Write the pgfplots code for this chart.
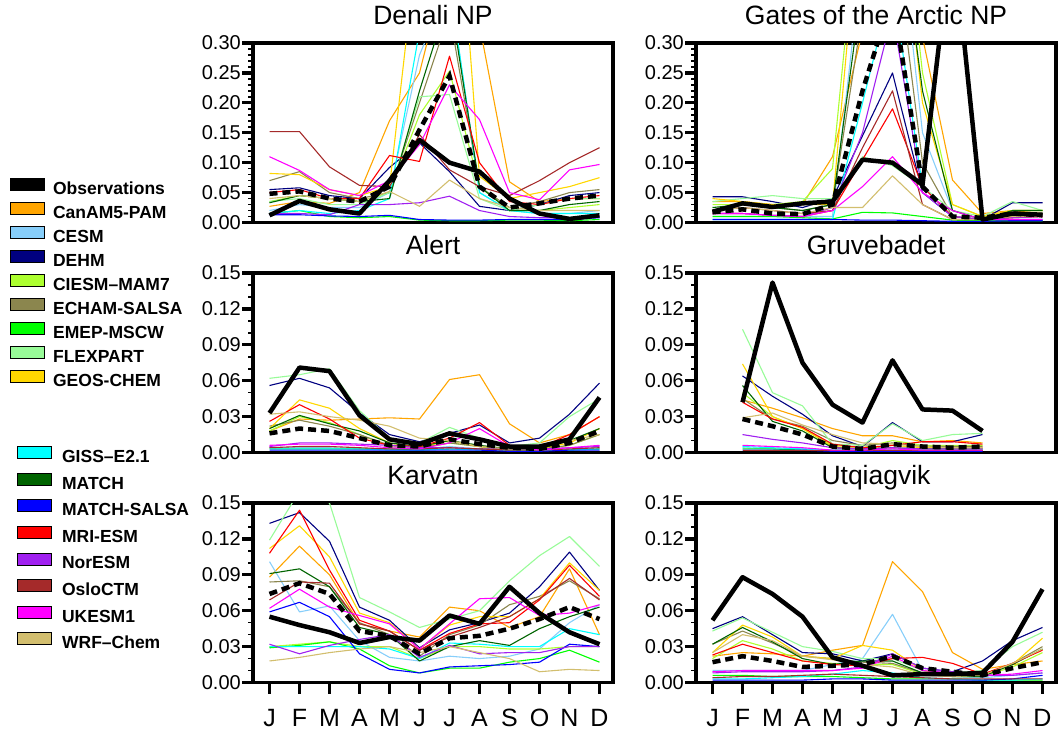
\documentclass[border=0pt]{standalone}
\usepackage{fontspec}
\setmainfont{Liberation Sans}
\usepackage{pgfplots}
\usepackage{pgfplotstable}
\pgfplotsset{compat=1.18}

\definecolor{colcan}{RGB}{255,165,0}
\definecolor{colcesm}{RGB}{135,206,250}
\definecolor{coldehm}{RGB}{0,0,128}
\definecolor{colciesm}{RGB}{173,255,47}
\definecolor{colecham}{RGB}{139,134,78}
\definecolor{colemep}{RGB}{0,255,0}
\definecolor{colflex}{RGB}{152,251,152}
\definecolor{colgeos}{RGB}{255,215,0}
\definecolor{colgiss}{RGB}{0,255,255}
\definecolor{colmatch}{RGB}{0,100,0}
\definecolor{colmsalsa}{RGB}{0,0,255}
\definecolor{colmri}{RGB}{255,0,0}
\definecolor{colnor}{RGB}{160,32,240}
\definecolor{coloslo}{RGB}{165,42,42}
\definecolor{coluk}{RGB}{255,0,255}
\definecolor{colwrf}{RGB}{210,190,110}

% monthly values, m = 0 (Jan) ... 11 (Dec)
\pgfplotstableread{
m  obs   ens   can   cesm  dehm  ciesm echam emep  flex  geos  giss  match msalsa mri  nor   oslo  uk    wrf
0  0.012 0.048 0.027 0.020 0.055 0.035 0.070 0.015 0.035 0.082 0.015 0.033 0.013 0.050 0.015 0.152 0.110 0.040
1  0.036 0.052 0.035 0.030 0.058 0.045 0.085 0.020 0.040 0.080 0.020 0.045 0.013 0.055 0.015 0.152 0.087 0.045
2  0.022 0.040 0.032 0.025 0.045 0.040 0.050 0.010 0.030 0.055 0.015 0.040 0.011 0.040 0.013 0.093 0.055 0.040
3  0.015 0.035 0.050 0.025 0.040 0.035 0.040 0.008 0.030 0.045 0.020 0.035 0.010 0.040 0.030 0.062 0.045 0.035
4  0.070 0.060 0.170 0.050 0.092 0.050 0.050 0.010 0.050 0.060 0.040 0.040 0.012 0.112 0.030 0.060 0.070 0.052
5  0.138 0.155 0.250 0.280 0.133 0.180 0.200 0.004 0.210 0.500 0.320 0.220 0.005 0.102 0.033 0.147 0.130 0.027
6  0.100 0.245 0.450 0.400 0.085 0.253 0.350 0.003 0.214 0.750 0.400 0.380 0.004 0.278 0.044 0.088 0.230 0.071
7  0.085 0.060 0.330 0.050 0.027 0.060 0.060 0.003 0.040 0.077 0.050 0.060 0.004 0.100 0.020 0.060 0.172 0.040
8  0.040 0.025 0.068 0.020 0.020 0.020 0.025 0.004 0.020 0.040 0.020 0.020 0.005 0.035 0.010 0.045 0.050 0.025
9  0.015 0.032 0.035 0.015 0.030 0.020 0.035 0.004 0.030 0.050 0.015 0.020 0.005 0.030 0.008 0.070 0.038 0.020
10 0.006 0.040 0.040 0.015 0.045 0.025 0.050 0.003 0.040 0.060 0.015 0.030 0.005 0.040 0.008 0.100 0.088 0.020
11 0.012 0.045 0.040 0.020 0.050 0.030 0.055 0.005 0.040 0.075 0.015 0.035 0.008 0.045 0.010 0.125 0.097 0.020
}\tblden

\pgfplotstableread{
m  obs   ens   can   cesm  dehm  ciesm echam emep  flex  geos  giss  match msalsa mri  nor   oslo  uk    wrf
0  0.018 0.017 0.035 0.010 0.043 0.030 0.020 0.010 0.035 0.040 0.005 0.025 0.005 0.015 0.015 0.020 0.015 0.020
1  0.032 0.022 0.035 0.010 0.043 0.030 0.030 0.010 0.040 0.035 0.005 0.030 0.005 0.015 0.015 0.025 0.015 0.025
2  0.026 0.015 0.030 0.010 0.035 0.030 0.025 0.010 0.045 0.030 0.005 0.025 0.005 0.012 0.012 0.020 0.012 0.020
3  0.032 0.014 0.030 0.010 0.025 0.035 0.020 0.008 0.040 0.030 0.005 0.020 0.005 0.010 0.010 0.015 0.010 0.015
4  0.035 0.030 0.110 0.010 0.040 0.090 0.030 0.006 0.040 0.030 0.005 0.030 0.005 0.020 0.025 0.020 0.020 0.025
5  0.105 0.220 0.320 0.450 0.145 0.600 0.350 0.017 0.110 0.580 0.200 0.400 0.004 0.105 0.150 0.125 0.060 0.025
6  0.100 0.380 0.500 0.600 0.250 0.700 0.500 0.016 0.095 0.650 0.400 0.600 0.004 0.190 0.350 0.220 0.110 0.078
7  0.063 0.060 0.310 0.150 0.050 0.250 0.100 0.010 0.060 0.200 0.060 0.220 0.003 0.060 0.050 0.030 0.050 0.030
8  0.490 0.010 0.071 0.020 0.010 0.030 0.010 0.004 0.020 0.030 0.010 0.020 0.002 0.010 0.010 0.005 0.020 0.005
9  0.005 0.008 0.015 0.005 0.005 0.010 0.005 0.003 0.010 0.010 0.005 0.005 0.002 0.005 0.005 0.005 0.005 0.005
10 0.015 0.015 0.020 0.005 0.033 0.020 0.015 0.003 0.035 0.020 0.005 0.020 0.003 0.008 0.008 0.010 0.005 0.010
11 0.013 0.012 0.015 0.005 0.033 0.020 0.015 0.003 0.020 0.020 0.005 0.020 0.003 0.010 0.010 0.010 0.005 0.010
}\tblgat

\pgfplotstableread{
m  obs   ens   can   cesm  dehm  ciesm echam emep  flex  geos  giss  match msalsa mri  nor   oslo  uk    wrf
0  0.033 0.016 0.018 0.004 0.056 0.018 0.022 0.003 0.062 0.020 0.003 0.020 0.002 0.026 0.005 0.004 0.006 0.032
1  0.071 0.020 0.028 0.004 0.062 0.030 0.027 0.003 0.065 0.044 0.003 0.031 0.002 0.040 0.008 0.005 0.007 0.034
2  0.068 0.018 0.027 0.004 0.054 0.025 0.022 0.003 0.070 0.037 0.003 0.024 0.002 0.028 0.008 0.005 0.007 0.030
3  0.031 0.012 0.028 0.003 0.033 0.015 0.015 0.003 0.035 0.020 0.003 0.018 0.002 0.012 0.007 0.004 0.006 0.027
4  0.011 0.006 0.029 0.003 0.015 0.005 0.006 0.003 0.012 0.008 0.002 0.008 0.002 0.006 0.006 0.003 0.004 0.022
5  0.007 0.005 0.028 0.003 0.009 0.003 0.004 0.002 0.008 0.004 0.002 0.005 0.002 0.005 0.004 0.003 0.003 0.012
6  0.016 0.011 0.061 0.005 0.016 0.008 0.008 0.003 0.021 0.010 0.003 0.010 0.002 0.012 0.004 0.004 0.008 0.010
7  0.011 0.007 0.065 0.003 0.023 0.005 0.005 0.003 0.012 0.005 0.002 0.006 0.002 0.025 0.003 0.003 0.020 0.005
8  0.005 0.004 0.024 0.002 0.008 0.002 0.002 0.002 0.005 0.003 0.002 0.003 0.001 0.006 0.003 0.002 0.005 0.003
9  0.005 0.003 0.008 0.002 0.012 0.002 0.003 0.002 0.008 0.003 0.002 0.003 0.001 0.004 0.003 0.002 0.002 0.004
10 0.011 0.008 0.015 0.003 0.032 0.006 0.006 0.002 0.030 0.008 0.002 0.010 0.002 0.015 0.004 0.003 0.004 0.010
11 0.046 0.018 0.030 0.004 0.058 0.015 0.015 0.003 0.045 0.020 0.003 0.020 0.002 0.030 0.005 0.004 0.006 0.015
}\tblale

\pgfplotstableread{
m  obs   ens   can   cesm  dehm  ciesm echam emep  flex  geos  giss  match msalsa mri  nor   oslo  uk    wrf
1  0.042 0.028 0.044 0.004 0.064 0.050 0.045 0.003 0.103 0.074 0.005 0.056 0.002 0.042 0.015 0.002 0.006 0.029
2  0.142 0.022 0.037 0.003 0.047 0.030 0.028 0.003 0.050 0.030 0.004 0.026 0.002 0.028 0.011 0.002 0.005 0.033
3  0.075 0.015 0.029 0.003 0.032 0.020 0.022 0.002 0.039 0.020 0.003 0.018 0.002 0.021 0.008 0.002 0.004 0.023
4  0.040 0.005 0.020 0.002 0.014 0.006 0.010 0.002 0.007 0.005 0.002 0.004 0.001 0.007 0.004 0.002 0.002 0.015
5  0.025 0.003 0.014 0.002 0.005 0.004 0.006 0.002 0.006 0.003 0.002 0.003 0.001 0.004 0.003 0.002 0.002 0.008
6  0.077 0.007 0.014 0.002 0.025 0.010 0.008 0.002 0.024 0.006 0.002 0.004 0.001 0.006 0.004 0.002 0.003 0.007
7  0.036 0.005 0.009 0.002 0.009 0.006 0.005 0.002 0.010 0.004 0.002 0.003 0.001 0.009 0.003 0.002 0.002 0.005
8  0.035 0.004 0.010 0.002 0.009 0.006 0.005 0.002 0.015 0.004 0.002 0.003 0.001 0.009 0.003 0.002 0.002 0.004
9  0.018 0.005 0.008 0.002 0.015 0.006 0.005 0.002 0.016 0.004 0.002 0.003 0.001 0.007 0.003 0.002 0.002 0.004
}\tblgru

\pgfplotstableread{
m  obs   ens   can   cesm  dehm  ciesm echam emep  flex  geos  giss  match msalsa mri  nor   oslo  uk    wrf
0  0.055 0.074 0.088 0.101 0.133 0.030 0.084 0.029 0.119 0.112 0.030 0.091 0.059 0.108 0.032 0.069 0.062 0.018
1  0.048 0.083 0.114 0.059 0.142 0.032 0.085 0.031 0.160 0.131 0.030 0.095 0.067 0.144 0.024 0.084 0.078 0.021
2  0.042 0.074 0.090 0.064 0.118 0.034 0.080 0.034 0.150 0.105 0.030 0.080 0.055 0.094 0.031 0.083 0.063 0.025
3  0.033 0.043 0.049 0.035 0.063 0.030 0.050 0.028 0.071 0.058 0.030 0.046 0.024 0.052 0.036 0.049 0.056 0.028
4  0.038 0.039 0.043 0.021 0.052 0.030 0.040 0.014 0.059 0.050 0.028 0.040 0.011 0.043 0.040 0.043 0.049 0.030
5  0.035 0.024 0.038 0.018 0.029 0.020 0.022 0.008 0.046 0.028 0.020 0.018 0.008 0.027 0.021 0.027 0.028 0.025
6  0.056 0.037 0.063 0.022 0.044 0.030 0.040 0.012 0.053 0.048 0.033 0.030 0.013 0.041 0.031 0.038 0.049 0.030
7  0.049 0.039 0.060 0.020 0.050 0.030 0.048 0.012 0.060 0.055 0.032 0.035 0.014 0.049 0.024 0.046 0.070 0.025
8  0.080 0.045 0.046 0.022 0.058 0.028 0.065 0.017 0.085 0.055 0.030 0.031 0.015 0.050 0.025 0.055 0.071 0.020
9  0.058 0.053 0.055 0.028 0.080 0.028 0.072 0.020 0.106 0.070 0.030 0.045 0.017 0.069 0.025 0.070 0.056 0.009
10 0.042 0.063 0.095 0.050 0.109 0.030 0.085 0.027 0.122 0.100 0.045 0.055 0.032 0.098 0.030 0.087 0.058 0.011
11 0.032 0.053 0.040 0.065 0.077 0.030 0.070 0.017 0.097 0.077 0.040 0.063 0.030 0.072 0.030 0.069 0.065 0.010
}\tblkar

\pgfplotstableread{
m  obs   ens   can   cesm  dehm  ciesm echam emep  flex  geos  giss  match msalsa mri  nor   oslo  uk    wrf
0  0.052 0.017 0.022 0.010 0.045 0.020 0.032 0.006 0.043 0.025 0.003 0.032 0.002 0.023 0.008 0.004 0.009 0.025
1  0.088 0.022 0.025 0.010 0.055 0.035 0.043 0.006 0.054 0.048 0.003 0.046 0.002 0.032 0.009 0.005 0.010 0.040
2  0.074 0.018 0.024 0.010 0.040 0.028 0.033 0.005 0.042 0.038 0.004 0.034 0.002 0.025 0.009 0.005 0.010 0.035
3  0.055 0.013 0.022 0.010 0.025 0.018 0.022 0.005 0.030 0.022 0.005 0.020 0.002 0.018 0.009 0.006 0.010 0.022
4  0.021 0.014 0.027 0.015 0.024 0.016 0.020 0.005 0.026 0.020 0.007 0.015 0.003 0.015 0.010 0.007 0.010 0.019
5  0.014 0.015 0.031 0.020 0.018 0.015 0.017 0.004 0.020 0.031 0.010 0.018 0.003 0.014 0.013 0.006 0.012 0.015
6  0.006 0.022 0.101 0.057 0.024 0.015 0.016 0.003 0.020 0.027 0.008 0.018 0.002 0.020 0.024 0.005 0.022 0.013
7  0.007 0.012 0.076 0.010 0.012 0.007 0.008 0.003 0.010 0.010 0.004 0.008 0.002 0.021 0.012 0.004 0.010 0.006
8  0.007 0.009 0.025 0.005 0.009 0.005 0.006 0.003 0.008 0.007 0.003 0.005 0.002 0.016 0.009 0.003 0.008 0.005
9  0.008 0.006 0.011 0.004 0.018 0.005 0.006 0.002 0.010 0.006 0.002 0.005 0.002 0.007 0.006 0.003 0.006 0.006
10 0.034 0.012 0.015 0.006 0.035 0.013 0.016 0.002 0.030 0.015 0.002 0.015 0.003 0.016 0.006 0.003 0.007 0.016
11 0.078 0.017 0.018 0.008 0.046 0.025 0.030 0.002 0.042 0.037 0.003 0.028 0.006 0.027 0.008 0.003 0.010 0.028
}\tblutq

\pgfplotsset{
  panel/.style={
    scale only axis, width=360pt, height=179.5pt,
    xmin=-0.55, xmax=11.45, ymin=0,
    axis line style={line width=3.8pt},
    tick align=outside, tick pos=left,
    major tick length=11pt, minor tick length=5pt,
    major tick style={line width=3.2pt, black},
    minor tick style={line width=1.6pt, black},
    scaled y ticks=false,
    yticklabel={\pgfmathprintnumber[fixed,fixed zerofill,precision=2,assume math mode=true]{\tick}},
    yticklabel style={font=\fontsize{20}{23}\selectfont, inner sep=1pt},
    title style={font=\fontsize{26.5}{30}\selectfont, at={(0.5,1)}, anchor=base, yshift=13pt, inner sep=0pt},
    xtick=\empty,
  },
  top/.style={ymax=0.30, ytick={0,0.05,0.1,0.15,0.2,0.25,0.3}, minor y tick num=4},
  low/.style={ymax=0.15, ytick={0,0.03,0.06,0.09,0.12,0.15}, minor y tick num=2},
  months/.style={xtick={0,...,11}, xticklabels={J,F,M,A,M,J,J,A,S,O,N,D},
    xticklabel style={font=\fontsize{25}{29}\selectfont, yshift=-12pt}},
  mdl/.style={line width=1.1pt, line join=round},
  obsl/.style={black, line width=4.5pt, line join=round},
  ensl/.style={black, line width=4.5pt, dash pattern=on 8pt off 5pt},
  legbox/.style={hide axis, scale only axis, width=34pt, height=10pt,
    xmin=0, xmax=1, ymin=0, ymax=1,
    legend style={at={(0,1)}, anchor=north west, draw=none, fill=none, inner sep=0pt,
      font=\fontsize{17.5}{20}\selectfont\bfseries, cells={anchor=west},
      nodes={inner sep=0pt, text height=13pt, text depth=3.5pt},
      /tikz/every odd column/.append style={column sep=8pt}},
    legend image code/.code={\draw[##1, draw=black, line width=0.9pt] (0pt,-1pt) rectangle (34pt,11pt);},
  },
}

\newcommand{\stationplot}[1]{%
  \pgfplotsinvokeforeach{can,cesm,dehm,ciesm,echam,emep,flex,geos,giss,match,msalsa,mri,nor,oslo,uk,wrf}{%
    \addplot[mdl, col##1] table[x=m, y=##1]{#1};}
  \addplot[obsl] table[x=m, y=obs]{#1};
  \addplot[ensl] table[x=m, y=ens]{#1};
}

\begin{document}
\begin{tikzpicture}
\useasboundingbox (0pt,0pt) rectangle (1060pt,-740pt);

\begin{axis}[panel, top, at={(253pt,-43pt)}, anchor=north west, title={Denali NP}]
\stationplot{\tblden}
\end{axis}
\begin{axis}[panel, top, at={(696pt,-43pt)}, anchor=north west, title={Gates of the Arctic NP}]
\stationplot{\tblgat}
\end{axis}
\begin{axis}[panel, low, at={(253pt,-273pt)}, anchor=north west, title={Alert}]
\stationplot{\tblale}
\end{axis}
\begin{axis}[panel, low, at={(696pt,-273pt)}, anchor=north west, title={Gruvebadet}]
\stationplot{\tblgru}
\end{axis}
\begin{axis}[panel, low, months, at={(253pt,-503pt)}, anchor=north west, title={Karvatn}]
\stationplot{\tblkar}
\end{axis}
\begin{axis}[panel, low, months, at={(696pt,-503pt)}, anchor=north west, title={Utqiagvik}]
\stationplot{\tblutq}
\end{axis}

% legend, first group
\begin{axis}[legbox, at={(10pt,-178pt)}, anchor=north west,
  legend style={row sep=4.3pt}]
\addlegendimage{fill=black}\addlegendentry{Observations}
\addlegendimage{fill=colcan}\addlegendentry{CanAM5-PAM}
\addlegendimage{fill=colcesm}\addlegendentry{CESM}
\addlegendimage{fill=coldehm}\addlegendentry{DEHM}
\addlegendimage{fill=colciesm}\addlegendentry{CIESM–MAM7}
\addlegendimage{fill=colecham}\addlegendentry{ECHAM-SALSA}
\addlegendimage{fill=colemep}\addlegendentry{EMEP-MSCW}
\addlegendimage{fill=colflex}\addlegendentry{FLEXPART}
\addlegendimage{fill=colgeos}\addlegendentry{GEOS-CHEM}
\end{axis}

% legend, second group
\begin{axis}[legbox, at={(17pt,-446pt)}, anchor=north west,
  legend style={row sep=6.9pt, /tikz/every odd column/.append style={column sep=10pt}}]
\addlegendimage{fill=colgiss}\addlegendentry{GISS–E2.1}
\addlegendimage{fill=colmatch}\addlegendentry{MATCH}
\addlegendimage{fill=colmsalsa}\addlegendentry{MATCH-SALSA}
\addlegendimage{fill=colmri}\addlegendentry{MRI-ESM}
\addlegendimage{fill=colnor}\addlegendentry{NorESM}
\addlegendimage{fill=coloslo}\addlegendentry{OsloCTM}
\addlegendimage{fill=coluk}\addlegendentry{UKESM1}
\addlegendimage{fill=colwrf}\addlegendentry{WRF–Chem}
\end{axis}
\end{tikzpicture}
\end{document}
